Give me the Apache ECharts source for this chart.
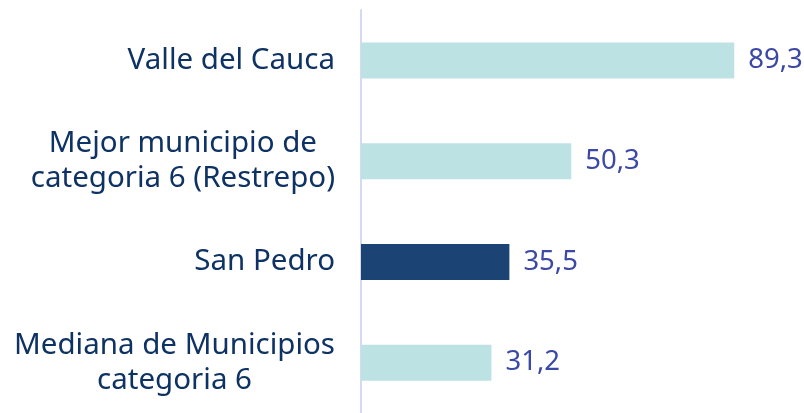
<!DOCTYPE html>
<html>
<head>
<meta charset="utf-8">
<script src="https://cdn.jsdelivr.net/npm/echarts@6/dist/echarts.min.js"></script>
<style>
  html, body { margin: 0; padding: 0; background: #fff; }
  #main { width: 804px; height: 413px; }
</style>
</head>
<body>
<div id="main"></div>
<script>
// categories top to bottom
var categories = [
	'Valle del Cauca',
	'Mejor municipio de\ncategoria 6 (Restrepo)',
	'San Pedro',
	'Mediana de Municipios\ncategoria 6'
];
var values = [89.3, 50.3, 35.5, 31.2];
var highlight = 'San Pedro';

var dom = document.getElementById('main');
var myChart = echarts.init(dom);

var barData = values.map(function (v, i) {
	return {
		value: v,
		itemStyle: { color: categories[i] == highlight ? '#1b4373' : '#bde2e4' }
	};
});

var option = {
	animation: false,
	grid: { left: 361, right: 25, top: 10, bottom: -2, containLabel: false },
	xAxis: {
		type: 'value',
		min: 0,
		max: 100,
		show: false
	},
	yAxis: {
		type: 'category',
		inverse: true,
		data: categories,
		axisLine: { show: true, lineStyle: { color: '#d6d9f2', width: 2 } },
		axisTick: { show: false },
		splitLine: { show: false },
		axisLabel: {
			margin: 26,
			align: 'right',
			// each line centred inside the right-aligned block
			formatter: function (v) {
				return v.split('\n').map(function (s) { return '{c|' + s + '}'; }).join('\n');
			},
			rich: {
				c: {
					align: 'center',
					fontFamily: 'Noto Sans',
					fontSize: 29.5,
					lineHeight: 35,
					color: '#0e3263'
				}
			}
		}
	},
	series: [{
		type: 'bar',
		data: barData,
		barWidth: 36,
		label: {
			show: true,
			position: 'right',
			distance: 14,
			fontFamily: 'Noto Sans',
			fontSize: 27.5,
			color: '#3b48a6',
			formatter: function (p) {
				return p.value.toFixed(1).replace('.', ',');
			}
		}
	}]
};

myChart.setOption(option, true);
</script>
</body>
</html>
